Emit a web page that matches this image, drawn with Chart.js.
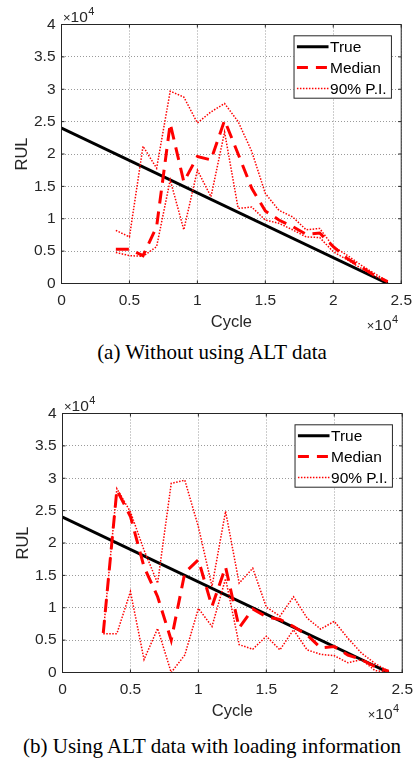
<!DOCTYPE html>
<html>
<head>
<meta charset="utf-8">
<script src="https://cdn.jsdelivr.net/npm/chart.js@4.4.1/dist/chart.umd.min.js"></script>
<style>
    body { margin: 0; background: #fff; width: 420px; height: 759px; position: relative; overflow: hidden; }
    canvas { position: absolute; }
    .legenda-figura {
        position: absolute; left: 0; width: 424px; text-align: center;
        font-family: 'Liberation Serif', 'Times New Roman', serif; font-size: 21px; line-height: 24px; color: #000;
    }
</style>
</head>
<body>
<canvas id="graficoA" width="420" height="340" style="left:0;top:0"></canvas>
<div class="legenda-figura" style="top:340px">(a) Without using ALT data</div>
<canvas id="graficoB" width="420" height="340" style="left:1px;top:389px"></canvas>
<div class="legenda-figura" style="top:734px">(b) Using ALT data with loading information</div>
<script>
// valores (ciclos e RUL em unidades brutas)
const trueCycles = [0, 24000];
const trueRul = [24000, 0];

const cyclesA = [4000, 5000, 6000, 7000, 8000, 9000, 10000, 11000, 12000, 13000, 14000,
    15000, 16000, 17000, 18000, 19000, 20000, 21000, 22000, 23000, 24000];
const medianA = [5300, 5300, 4300, 8800, 24700, 15700, 19600, 19100, 25200, 20000, 14700,
    11200, 9800, 8800, 7600, 7800, 5700, 3900, 2600, 1300, 300];
const upperA = [8200, 7200, 21200, 17800, 29700, 28800, 24800, 26500, 27800, 25000, 20400,
    13900, 11300, 10300, 8300, 8500, 5700, 4400, 2900, 1600, 300];
const lowerA = [4800, 4300, 4200, 5700, 16000, 8300, 17500, 13400, 23400, 11600, 11800,
    9800, 9300, 8300, 7200, 7100, 4900, 3700, 2400, 1200, 300];

const cyclesB = [3000, 4000, 5000, 6000, 7000, 8000, 9000, 10000, 11000, 12000, 13000, 14000,
    15000, 16000, 17000, 18000, 19000, 20000, 21000, 22000, 23000, 24000];
const medianB = [6100, 28200, 24100, 16300, 11700, 5000, 15400, 17400, 10200, 16300, 6900, 9800,
    8600, 8200, 7100, 5800, 3800, 4000, 2700, 2000, 900, 200];
const upperB = [6100, 28400, 24800, 18900, 13800, 29200, 29700, 22500, 13300, 24900, 13800, 16100,
    10100, 8700, 11700, 8400, 6700, 7900, 5300, 3000, 1400, 200];
const lowerB = [6000, 6000, 12500, 2000, 6800, 0, 2700, 9900, 7100, 14500, 4300, 3600,
    5600, 3500, 6600, 3500, 2800, 2600, 1500, 2000, 300, 0];

const xTickLabels = ['0', '0.5', '1', '1.5', '2', '2.5'];
const yTickLabels = ['0', '0.5', '1', '1.5', '2', '2.5', '3', '3.5', '4'];

const COR_EIXO = '#262626';
const FONTE = "'Liberation Sans', Arial, sans-serif";

function pontos(xs, ys) {
    return xs.map((x, i) => ({ x, y: ys[i] }));
}

const caixaEixos = {
    id: 'caixaEixos',
    afterDatasetsDraw(chart) {
        const { ctx, chartArea: a, scales: { x, y } } = chart;
        ctx.save();
        ctx.strokeStyle = COR_EIXO;
        ctx.lineWidth = 1;
        ctx.setLineDash([]);
        ctx.beginPath();
        ctx.rect(a.left, a.top, a.right - a.left, a.bottom - a.top);
        x.ticks.forEach(t => {
            const px = x.getPixelForValue(t.value);
            ctx.moveTo(px, a.bottom); ctx.lineTo(px, a.bottom - 3);
            ctx.moveTo(px, a.top); ctx.lineTo(px, a.top + 3);
        });
        y.ticks.forEach(t => {
            const py = y.getPixelForValue(t.value);
            ctx.moveTo(a.left, py); ctx.lineTo(a.left + 3, py);
            ctx.moveTo(a.right, py); ctx.lineTo(a.right - 3, py);
        });
        ctx.stroke();
        ctx.restore();
    },
    afterDraw(chart) {
        const { ctx, chartArea: a } = chart;
        ctx.save();

        // multiplicadores x10^4
        const expoente = (xEsq, base) => {
            ctx.fillStyle = COR_EIXO;
            ctx.textBaseline = 'alphabetic';
            ctx.textAlign = 'left';
            ctx.font = `13px ${FONTE}`;
            ctx.fillText('\u00d7', xEsq, base);
            let w = ctx.measureText('\u00d7').width;
            ctx.font = `15.5px ${FONTE}`;
            ctx.fillText('10', xEsq + w, base);
            w += ctx.measureText('10').width;
            ctx.font = `11px ${FONTE}`;
            ctx.fillText('4', xEsq + w + 0.5, base - 7.5);
        };
        expoente(a.left + 1.5, a.top - 2.5);
        expoente(a.right - 34.5, a.bottom + 46.5);

        // legenda
        const lx = a.right - 107.7, ly = a.top + 10.8, lw = 98.4, lh = 63.4;
        ctx.fillStyle = '#fff';
        ctx.fillRect(lx, ly, lw, lh);
        ctx.strokeStyle = COR_EIXO;
        ctx.lineWidth = 1;
        ctx.setLineDash([]);
        ctx.strokeRect(lx + 0.5, ly + 0.5, lw - 1, lh - 1);
        const linhas = chart.data.datasets.filter(ds => ds.label);
        linhas.forEach((ds, i) => {
            const yy = ly + 11.5 + i * 20.8;
            ctx.beginPath();
            ctx.strokeStyle = ds.borderColor;
            ctx.lineWidth = ds.borderWidth;
            ctx.setLineDash(ds.legendDash || []);
            ctx.moveTo(lx + 3.4, yy);
            ctx.lineTo(lx + 35, yy);
            ctx.stroke();
            ctx.setLineDash([]);
            ctx.fillStyle = '#000';
            ctx.font = `15.5px ${FONTE}`;
            ctx.textBaseline = 'middle';
            ctx.fillText(ds.label, lx + 36.5, yy + 1);
        });
        ctx.restore();
    }
};

function criarGrafico(id, cycles, median, upper, lower) {
    const fonteEixo = { family: FONTE, size: 15.5 };
    const fonteTitulo = { family: FONTE, size: 16.5 };
    return new Chart(document.getElementById(id), {
        type: 'line',
        data: {
            datasets: [
                { label: 'True', data: pontos(trueCycles, trueRul), borderColor: '#000', borderWidth: 3, order: 10 },
                { label: 'Median', data: pontos(cycles, median), borderColor: '#ff0000', borderWidth: 3,
                    borderDash: [13, 8], legendDash: [11, 8], order: 1 },
                { label: '90% P.I.', data: pontos(cycles, upper), borderColor: '#ff0000', borderWidth: 1.5,
                    borderDash: [1.5, 1.5], legendDash: [1.5, 1.5], order: 2 },
                { data: pontos(cycles, lower), borderColor: '#ff0000', borderWidth: 1.5,
                    borderDash: [1.5, 1.5], order: 3 }
            ]
        },
        options: {
            responsive: false,
            animation: false,
            elements: { point: { radius: 0 }, line: { tension: 0, borderCapStyle: 'butt' } },
            layout: { padding: { left: 0, top: 24.5, right: 14, bottom: 0 } },
            plugins: { legend: { display: false }, tooltip: { enabled: false } },
            scales: {
                x: {
                    type: 'linear', min: 0, max: 25000,
                    afterFit: s => { s.height = 56.5; },
                    ticks: { stepSize: 5000, padding: 8, color: COR_EIXO, font: fonteEixo,
                        maxRotation: 0, callback: (v, i) => xTickLabels[i] },
                    grid: { color: '#9a9a9a', lineWidth: 1, drawTicks: false },
                    border: { color: COR_EIXO, dash: [1, 2] },
                    title: { display: true, text: 'Cycle', color: COR_EIXO, font: fonteTitulo, padding: { bottom: 8 } }
                },
                y: {
                    type: 'linear', min: 0, max: 40000,
                    afterFit: s => { s.width = 61.5; },
                    ticks: { stepSize: 5000, padding: 6, color: COR_EIXO, font: fonteEixo,
                        callback: (v, i) => yTickLabels[i] },
                    grid: { color: '#9a9a9a', lineWidth: 1, drawTicks: false },
                    border: { color: COR_EIXO, dash: [1, 2] },
                    title: { display: true, text: 'RUL', color: COR_EIXO, font: fonteTitulo, padding: { top: 13 } }
                }
            }
        },
        plugins: [caixaEixos]
    });
}

criarGrafico('graficoA', cyclesA, medianA, upperA, lowerA);
criarGrafico('graficoB', cyclesB, medianB, upperB, lowerB);
</script>
</body>
</html>
